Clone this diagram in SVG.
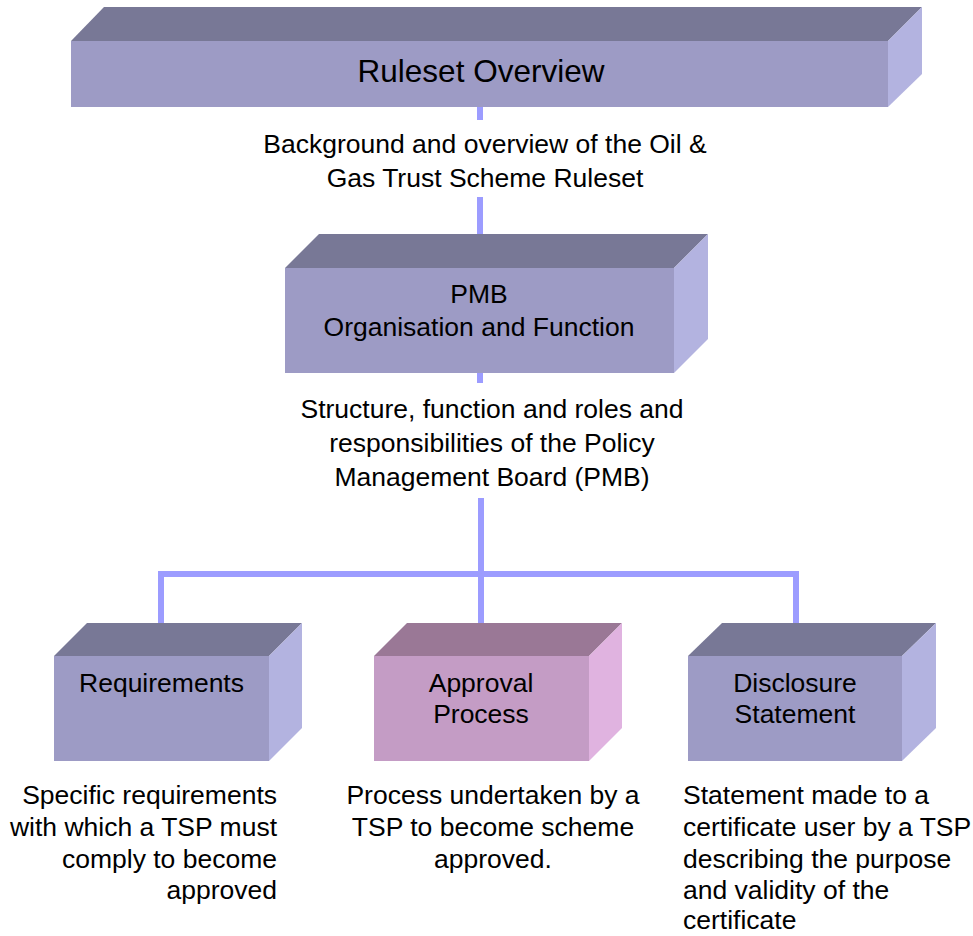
<svg xmlns="http://www.w3.org/2000/svg" width="973" height="936" viewBox="0 0 973 936">
<style>
.top{fill:#787896}.front{fill:#9D9BC5}.side{fill:#B3B3E0}
.ptop{fill:#9A7896}.pfront{fill:#C49CC5}.pside{fill:#E0B3E0}
text{font-family:"Liberation Sans",Arial,sans-serif;font-size:26.5px;fill:#000}
.c{text-anchor:middle}.r{text-anchor:end}
.big{font-size:31.5px}
.conn{stroke:#9C9CFF;stroke-width:6;fill:none}
</style>
<rect width="973" height="936" fill="#fff"/>
<g id="connectors">
<line class="conn" x1="480" y1="107" x2="480" y2="120"/>
<line class="conn" x1="480" y1="197" x2="480" y2="236"/>
<line class="conn" x1="480" y1="372" x2="480" y2="383"/>
<line class="conn" x1="481" y1="498" x2="481" y2="574"/>
<polyline class="conn" points="161,623 161,574 796,574 796,623"/>
<line class="conn" x1="481" y1="574" x2="481" y2="623"/>
</g>
<g id="ruleset">
<polygon class="top" points="71,41 104,7 922,7 888,41"/>
<polygon class="side" points="888,41 922,7 922,74 888,107"/>
<rect class="front" x="71" y="41" width="817" height="66"/>
<text class="c big" x="481" y="82">Ruleset Overview</text>
</g>
<g id="ruleset-desc">
<text class="c" x="485" y="153">Background and overview of the Oil &amp;</text>
<text class="c" x="485" y="187">Gas Trust Scheme Ruleset</text>
</g>
<g id="pmb">
<polygon class="top" points="285,268 319,234 708,234 674,268"/>
<polygon class="side" points="674,268 708,234 708,339 674,373"/>
<rect class="front" x="285" y="268" width="389" height="105"/>
<text class="c" x="479" y="303">PMB</text>
<text class="c" x="479" y="336">Organisation and Function</text>
</g>
<g id="pmb-desc">
<text class="c" x="492" y="418">Structure, function and roles and</text>
<text class="c" x="492" y="452">responsibilities of the Policy</text>
<text class="c" x="492" y="486">Management Board (PMB)</text>
</g>
<g id="requirements">
<polygon class="top" points="54,656 87,623 302,623 269,656"/>
<polygon class="side" points="269,656 302,623 302,728 269,761"/>
<rect class="front" x="54" y="656" width="215" height="105"/>
<text class="c" x="161.5" y="692">Requirements</text>
</g>
<g id="approval">
<polygon class="ptop" points="374,656 407,623 622,623 589,656"/>
<polygon class="pside" points="589,656 622,623 622,728 589,761"/>
<rect class="pfront" x="374" y="656" width="215" height="105"/>
<text class="c" x="481" y="692">Approval</text>
<text class="c" x="481" y="723">Process</text>
</g>
<g id="disclosure">
<polygon class="top" points="688,656 722,623 936,623 902,656"/>
<polygon class="side" points="902,656 936,623 936,728 902,761"/>
<rect class="front" x="688" y="656" width="214" height="105"/>
<text class="c" x="795" y="692">Disclosure</text>
<text class="c" x="795" y="723">Statement</text>
</g>
<g id="requirements-desc">
<text class="r" x="277" y="804">Specific requirements</text>
<text class="r" x="277" y="836">with which a TSP must</text>
<text class="r" x="277" y="867.5">comply to become</text>
<text class="r" x="277" y="899">approved</text>
</g>
<g id="approval-desc">
<text class="c" x="493" y="804">Process undertaken by a</text>
<text class="c" x="493" y="836">TSP to become scheme</text>
<text class="c" x="493" y="867.5">approved.</text>
</g>
<g id="disclosure-desc">
<text x="683" y="804">Statement made to a</text>
<text x="683" y="836">certificate user by a TSP</text>
<text x="683" y="867.5">describing the purpose</text>
<text x="683" y="899">and validity of the</text>
<text x="683" y="929">certificate</text>
</g>
</svg>
